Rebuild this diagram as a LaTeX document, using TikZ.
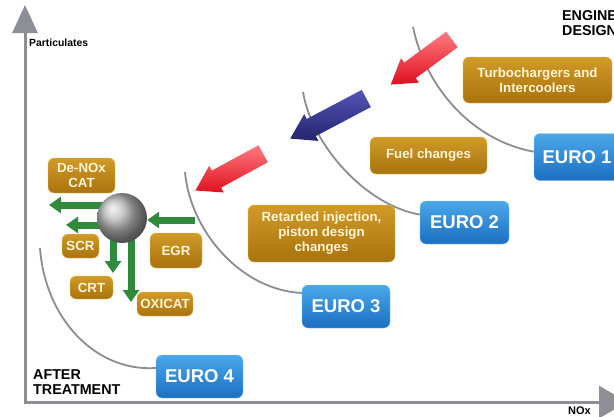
\documentclass[tikz,border=0pt]{standalone}
\usepackage{fontspec}
\setmainfont{Liberation Sans}
\usetikzlibrary{shapes,arrows,arrows.meta,calc}
\definecolor{euroT}{HTML}{4AA8E8}
\definecolor{euroB}{HTML}{1C6EC2}
\definecolor{euroedge}{HTML}{8CC8F0}
\definecolor{techT}{HTML}{D19A28}
\definecolor{techB}{HTML}{A9730E}
\definecolor{techedge}{HTML}{E2C060}
\definecolor{techtext}{HTML}{FFF4D6}
\definecolor{curvegray}{HTML}{8C8C94}
\definecolor{axisgray}{HTML}{8E8E96}
\definecolor{flowgreen}{HTML}{2F8A3C}
\definecolor{redL}{HTML}{FF7A82}
\definecolor{redD}{HTML}{E0101E}
\definecolor{blueL}{HTML}{5454B8}
\definecolor{blueD}{HTML}{24246E}
\tikzstyle{euro} = [draw=euroedge, rounded corners=6pt, top color=euroT, bottom color=euroB, text=white, font=\bfseries\fontsize{18.5}{20}\selectfont, inner sep=0pt]
\tikzstyle{tech} = [draw=techedge, rounded corners=6pt, top color=techT, bottom color=techB, text=techtext, font=\bfseries\fontsize{13.3}{15}\selectfont, align=center, inner sep=0pt]
\tikzstyle{curve} = [draw=curvegray, line width=1.8pt]
\tikzstyle{flow} = [draw=flowgreen, line width=7pt, -{Triangle[width=16pt,length=12pt]}]
\tikzstyle{axis} = [draw=axisgray, line width=3pt, {Triangle[width=25pt,length=28pt]}-{Triangle[width=32pt,length=28pt]}]
\tikzstyle{push} = [single arrow, inner xsep=0pt, inner ysep=9.5pt, single arrow head extend=5.5pt, single arrow tip angle=65]
\tikzstyle{axistext} = [font=\bfseries\fontsize{10.4}{12}\selectfont, inner sep=0pt]
\tikzstyle{grouptext} = [font=\bfseries\fontsize{14.3}{15}\selectfont, align=left, inner sep=0pt]

\begin{document}
\begin{tikzpicture}[x=1pt, y=-1pt]
    \clip (0,0) rectangle (614,416);
    \fill[white] (0,0) rectangle (614,416);
    % axes
    \coordinate (ytip) at (25,5);
    \coordinate (origin) at (25,402);
    \coordinate (xtip) at (627,402);
    \path[axis] (ytip) -- (origin) -- (xtip);
    \node[axistext, anchor=west] (particulates) at (29,43) {Particulates};
    \node[axistext, font=\bfseries\fontsize{11}{12}\selectfont] (nox) at (579.5,411) {NOx};
    \node[grouptext, anchor=west] (after) at (33,382) {AFTER\\TREATMENT};
    \node[grouptext, anchor=west] (engine) at (562,23.5) {ENGINE\\DESIGN};
    % emission limits
    \node[euro, minimum width=86pt, minimum height=47pt] (euro1) at (577,157) {EURO 1};
    \node[euro, minimum width=89pt, minimum height=43pt] (euro2) at (464.5,222.5) {EURO 2};
    \node[euro, minimum width=88pt, minimum height=43pt] (euro3) at (346,306.5) {EURO 3};
    \node[euro, minimum width=87pt, minimum height=43pt] (euro4) at (199.5,376.5) {EURO 4};
    \coordinate (c1) at (413,27);
    \coordinate (c2) at (303,92);
    \coordinate (c3) at (185,172);
    \coordinate (c4) at (40,248);
    \path[curve] (c1) .. controls (425,85) and (470,140) .. (euro1.173);
    \path[curve] (c2) .. controls (312,145) and (365,205) .. (euro2.170);
    \path[curve] (c3) .. controls (190,230) and (240,290) .. (euro3.163);
    \path[curve] (c4) .. controls (45,318) and (95,372) .. (euro4.169);
    % engine measures
    \node[tech, minimum width=149pt, minimum height=46pt] (turbo) at (537.5,80) {Turbochargers and\\Intercoolers};
    \node[tech, minimum width=117pt, minimum height=37pt] (fuel) at (428.5,155.5) {Fuel changes};
    \node[tech, minimum width=147pt, minimum height=57pt] (retard) at (321.5,233.5) {Retarded injection,\\piston design\\changes};
    % steps
    \node[push, top color=redL, bottom color=redD, minimum height=76pt, rotate=216.4] (step1) at (427.5,57.5) {};
    \node[push, top color=blueL, bottom color=blueD, minimum height=86pt, rotate=207.8] (step2) at (335,115) {};
    \node[push, top color=redL, bottom color=redD, minimum height=77pt, rotate=208.5] (step3) at (236,168.5) {};
    % after treatment
    \node[tech, minimum width=67pt, minimum height=35pt] (denox) at (81.5,175.5) {De-NOx\\CAT};
    \node[tech, minimum width=37pt, minimum height=24pt] (scr) at (80.5,246) {SCR};
    \node[tech, minimum width=52pt, minimum height=35pt] (egr) at (176,250.5) {EGR};
    \node[tech, minimum width=43pt, minimum height=23pt] (crt) at (91.5,287.5) {CRT};
    \node[tech, minimum width=56pt, minimum height=24pt] (oxicat) at (165,304) {OXICAT};
    \coordinate (hub) at (122,218);
    \coordinate (t1) at (49,205);
    \coordinate (t2) at (66,225);
    \coordinate (t4) at (113,273);
    \coordinate (t5) at (131,302);
    \coordinate (egrin) at (195,220);
    \path[flow] (t1 -| hub) -- (t1);
    \path[flow] (t2 -| hub) -- (t2);
    \path[flow] (hub -| t4) -- (t4);
    \path[flow] (hub -| t5) -- (t5);
    \node[circle, minimum size=50pt, inner sep=0pt, shading=ball, ball color=gray!55] (ball) at (hub) {};
    \path[flow] (egrin) -- (egrin -| ball.east);
\end{tikzpicture}
\end{document}
